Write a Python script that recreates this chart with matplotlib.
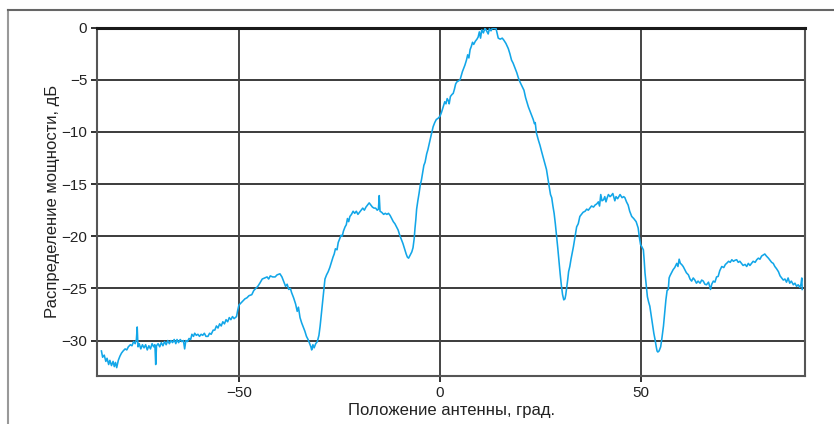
import matplotlib
matplotlib.use("Agg")
import matplotlib.pyplot as plt
from matplotlib.lines import Line2D

# Диаграмма направленности: (угол, град; мощность, дБ), по участкам
far_left = [
    (-84.2, -31.0), (-83.9, -31.6), (-83.5, -31.4), (-83.1, -32.0), (-82.8, -31.7),
    (-82.4, -32.3), (-82.1, -31.9), (-81.7, -32.4), (-81.3, -32.0), (-81.0, -32.5),
    (-80.7, -32.1), (-80.4, -32.6), (-80.0, -31.9), (-79.6, -31.5), (-79.2, -31.2),
    (-78.8, -31.0), (-78.3, -30.8), (-77.9, -30.9), (-77.5, -30.6), (-77.0, -30.4),
    (-76.6, -30.5), (-76.2, -30.1), (-75.8, -30.3), (-75.5, -29.9), (-75.3, -28.7),
    (-75.1, -30.6), (-74.8, -30.3), (-74.4, -30.8), (-74.0, -30.4), (-73.6, -30.7),
    (-73.2, -30.4), (-72.8, -30.9), (-72.4, -30.5), (-72.0, -30.8), (-71.6, -30.3),
    (-71.2, -30.6), (-70.9, -30.4), (-70.7, -32.3), (-70.5, -30.5), (-70.1, -30.3),
    (-69.7, -30.6), (-69.3, -30.2), (-68.9, -30.5), (-68.5, -30.1), (-68.1, -30.4),
    (-67.7, -30.0), (-67.3, -30.3), (-66.9, -30.0), (-66.5, -30.2), (-66.1, -29.9),
    (-65.7, -30.3), (-65.4, -29.9), (-65.0, -30.2), (-64.6, -29.9), (-64.2, -30.1),
    (-63.8, -30.0), (-63.5, -30.8), (-63.2, -30.0), (-62.8, -30.1), (-62.4, -29.8),
    (-62.0, -29.9), (-61.7, -29.4), (-61.3, -29.6), (-61.0, -29.3), (-60.6, -29.5),
    (-60.2, -29.4), (-59.8, -29.6), (-59.4, -29.4), (-59.0, -29.5), (-58.6, -29.3),
    (-58.2, -29.6), (-57.7, -29.6), (-57.3, -29.3), (-56.9, -29.4), (-56.4, -29.0),
    (-56.0, -29.0), (-55.6, -28.6), (-55.2, -28.8), (-54.8, -28.4), (-54.4, -28.6),
    (-54.0, -28.2), (-53.6, -28.4), (-53.2, -28.0), (-52.8, -28.2), (-52.4, -27.8),
    (-52.0, -28.0), (-51.6, -27.7), (-51.2, -27.9), (-50.6, -27.7), (-50.3, -27.1),
    (-50.0, -26.6),
]

left_lobes = [
    (-49.5, -26.4), (-49.0, -26.2), (-48.5, -26.0), (-48.0, -25.9), (-47.5, -25.7),
    (-46.8, -25.6), (-46.3, -25.2), (-45.8, -25.0), (-45.3, -24.8), (-44.8, -24.5),
    (-44.2, -24.1), (-43.6, -24.0), (-43.0, -23.9), (-42.6, -24.1), (-42.2, -23.8),
    (-41.6, -23.9), (-41.0, -23.9), (-40.5, -23.7), (-39.8, -23.6), (-39.3, -23.9),
    (-38.8, -24.4), (-38.4, -24.8), (-38.0, -24.6), (-37.6, -25.1), (-37.2, -25.0),
    (-36.9, -25.4), (-36.4, -25.9), (-35.9, -26.5), (-35.5, -27.2), (-35.2, -26.8),
    (-34.8, -27.8), (-34.4, -28.3), (-34.0, -28.7), (-33.6, -29.1), (-33.2, -29.6),
    (-32.8, -29.9), (-32.4, -30.3), (-32.1, -30.6), (-31.9, -30.9), (-31.6, -30.4),
    (-31.3, -30.7), (-30.9, -30.3), (-30.5, -30.1), (-30.1, -29.5), (-29.8, -28.6),
    (-29.5, -27.5), (-29.2, -26.4), (-28.9, -25.2), (-28.6, -24.1), (-28.2, -23.7),
    (-27.8, -23.4), (-27.4, -23.0), (-27.0, -22.5), (-26.6, -22.0), (-26.3, -21.7),
    (-26.0, -21.2), (-25.6, -21.3), (-25.3, -20.6), (-24.9, -20.2), (-24.6, -19.9),
    (-24.3, -20.0), (-24.0, -19.5), (-23.6, -19.1), (-23.3, -18.9), (-23.0, -18.3),
    (-22.7, -18.6), (-22.4, -18.1), (-22.0, -17.9), (-21.6, -17.6), (-21.2, -17.8),
    (-20.8, -17.6), (-20.4, -17.9), (-20.0, -17.7), (-19.6, -17.5), (-19.2, -17.3),
    (-18.8, -17.5), (-18.4, -17.2), (-18.0, -17.0), (-17.6, -16.8), (-17.2, -17.0),
    (-16.8, -17.2), (-16.4, -17.3), (-16.0, -17.3), (-15.6, -17.5), (-15.3, -17.4),
    (-15.1, -16.1), (-14.9, -17.6), (-14.5, -17.7), (-14.0, -17.9), (-13.6, -17.8),
    (-13.2, -17.9), (-12.8, -17.8), (-12.4, -18.0), (-12.0, -18.3), (-11.6, -18.6),
    (-11.2, -18.8), (-10.8, -19.1), (-10.4, -19.4), (-10.0, -19.9), (-9.6, -20.3),
    (-9.2, -20.7), (-8.8, -21.2), (-8.4, -21.7), (-8.1, -22.0), (-7.8, -22.1),
    (-7.4, -21.8), (-7.0, -21.5), (-6.7, -21.1), (-6.4, -20.2), (-6.2, -19.2),
]

main_lobe = [
    (-6.0, -18.4), (-5.8, -17.4), (-5.5, -16.6), (-5.2, -15.9), (-4.9, -15.1),
    (-4.6, -14.6), (-4.3, -13.9), (-4.0, -13.2), (-3.7, -12.9), (-3.3, -12.1),
    (-3.0, -11.7), (-2.6, -11.0), (-2.3, -10.5), (-2.0, -10.0), (-1.7, -9.5),
    (-1.3, -9.1), (-0.9, -8.8), (-0.5, -8.7), (0.0, -8.5), (0.4, -8.1),
    (0.8, -7.6), (1.2, -7.1), (1.5, -7.3), (1.8, -6.8), (2.1, -7.0),
    (2.3, -7.3), (2.6, -6.6), (3.0, -6.4), (3.3, -6.3), (3.6, -5.9),
    (3.9, -5.4), (4.2, -5.2), (4.6, -5.1), (5.0, -5.0), (5.3, -4.6),
    (5.6, -4.2), (5.9, -3.9), (6.2, -3.6), (6.6, -3.1), (6.9, -2.6),
    (7.2, -2.9), (7.5, -2.1), (7.8, -1.8), (8.1, -1.4), (8.4, -1.6),
    (8.8, -1.3), (9.2, -1.1), (9.5, -0.9), (9.8, -0.4), (10.1, -1.0),
    (10.4, -0.2), (10.8, -0.5), (11.2, -0.05), (11.6, -0.3), (12.0, -0.6),
    (12.3, -0.1), (12.7, -0.3), (13.1, 0.0), (13.5, -0.1), (13.9, 0.0),
    (14.2, -0.5), (14.5, -1.0), (15.0, -1.1), (15.5, -1.0), (15.9, -1.2),
    (16.4, -1.5), (17.0, -2.0), (17.4, -2.5), (17.8, -3.1), (18.2, -3.4),
    (18.7, -3.9), (19.1, -4.3), (19.5, -4.8), (19.9, -5.2), (20.4, -5.6),
    (20.9, -6.0), (21.3, -6.7), (21.7, -7.2), (22.0, -7.6), (22.5, -8.1),
    (22.9, -8.5), (23.2, -8.8), (23.5, -9.2), (23.7, -9.1), (24.0, -10.1),
    (24.5, -10.8), (24.9, -11.3), (25.3, -11.9), (25.8, -12.6), (26.2, -13.2),
    (26.5, -13.6), (26.9, -14.6), (27.2, -15.3), (27.5, -16.0), (27.8, -16.3),
    (28.1, -17.1), (28.4, -17.8), (28.7, -18.8), (29.0, -19.9), (29.3, -21.1),
    (29.6, -22.4), (29.9, -23.6), (30.2, -24.7), (30.5, -25.6), (30.8, -26.1),
]

right_lobes = [
    (31.1, -26.0), (31.3, -25.6), (31.5, -25.0), (31.8, -24.1), (32.0, -23.4),
    (32.3, -22.9), (32.6, -22.2), (32.9, -21.6), (33.2, -21.0), (33.5, -20.3),
    (33.8, -19.6), (34.0, -19.1), (34.4, -18.8), (34.8, -18.1), (35.2, -17.9),
    (35.6, -17.7), (36.1, -17.6), (36.5, -17.4), (36.9, -17.5), (37.3, -17.3),
    (37.7, -17.1), (38.2, -17.2), (38.6, -17.0), (39.0, -16.9), (39.4, -16.7),
    (39.7, -17.1), (40.0, -16.0), (40.3, -16.6), (40.7, -16.5), (41.0, -16.2),
    (41.3, -16.7), (41.6, -16.3), (41.9, -16.0), (42.3, -16.2), (42.6, -16.1),
    (43.0, -15.9), (43.3, -16.3), (43.5, -16.6), (43.8, -16.2), (44.2, -16.4),
    (44.8, -16.0), (45.3, -16.3), (45.7, -16.2), (46.0, -16.3), (46.4, -16.7),
    (46.8, -17.0), (47.2, -17.6), (47.7, -18.1), (48.2, -18.3), (48.8, -18.6),
    (49.3, -19.2), (49.6, -20.1), (49.9, -20.8), (50.2, -21.0), (50.6, -21.3),
    (50.8, -22.3), (51.0, -23.5), (51.3, -24.7), (51.6, -25.8), (51.9, -26.3),
    (52.2, -26.7), (52.5, -27.5), (52.9, -28.6), (53.2, -29.3), (53.5, -29.9),
    (53.8, -30.6), (54.0, -31.0), (54.2, -31.1), (54.5, -31.0), (54.9, -30.6),
    (55.2, -29.8), (55.6, -28.6), (55.9, -27.3), (56.2, -26.1), (56.5, -25.2),
    (56.8, -25.1), (57.0, -24.0),
]

far_right = [
    (57.2, -23.8), (57.6, -23.5), (58.0, -23.2), (58.4, -23.0), (58.9, -22.6),
    (59.2, -22.9), (59.5, -22.2), (59.8, -22.6), (60.1, -22.7), (60.5, -22.9),
    (60.9, -23.2), (61.3, -23.5), (61.8, -23.7), (62.2, -24.1), (62.6, -24.3),
    (63.0, -24.0), (63.4, -24.2), (63.8, -24.5), (64.2, -24.3), (64.7, -24.5),
    (65.1, -24.2), (65.5, -24.3), (65.9, -24.6), (66.3, -24.65), (66.8, -24.4),
    (67.3, -25.1), (67.6, -24.6), (68.0, -24.3), (68.4, -24.4), (68.8, -23.9),
    (69.2, -23.85), (69.6, -23.3), (70.1, -22.9), (70.6, -23.0), (71.0, -22.7),
    (71.3, -22.6), (71.8, -22.4), (72.2, -22.5), (72.6, -22.25), (73.0, -22.4),
    (73.4, -22.3), (73.8, -22.25), (74.2, -22.5), (74.6, -22.4), (75.0, -22.6),
    (75.4, -22.8), (75.9, -22.7), (76.3, -22.9), (76.7, -22.6), (77.1, -22.8),
    (77.5, -22.6), (77.9, -22.4), (78.4, -22.5), (78.8, -22.25), (79.2, -22.1),
    (79.6, -22.2), (80.0, -21.9), (80.4, -21.8), (80.8, -21.7), (81.2, -21.9),
    (81.7, -22.1), (82.1, -22.3), (82.5, -22.5), (82.9, -22.6), (83.3, -22.9),
    (83.7, -23.1), (84.2, -23.4), (84.6, -23.8), (85.0, -24.0), (85.4, -24.2),
    (85.8, -24.1), (86.2, -24.4), (86.6, -24.0), (87.0, -24.5), (87.4, -24.3),
    (87.9, -24.65), (88.3, -24.5), (88.7, -24.8), (89.1, -24.65), (89.5, -24.9),
    (89.8, -24.6), (90.0, -24.0), (90.1, -25.1),
]

x_ticks = [-50, 0, 50]
y_ticks = [0, -5, -10, -15, -20, -25, -30]

plt.rcParams['font.family'] = ['Liberation Sans', 'DejaVu Sans']

pontos = far_left + left_lobes + main_lobe + right_lobes + far_right
angulos = [p[0] for p in pontos]
potencia = [p[1] for p in pontos]

fig = plt.figure(figsize=(8.34, 4.24), dpi=100)
ax = fig.add_axes([97 / 834, 48 / 424, 708 / 834, 348.3 / 424])

# рамка вокруг рисунка (левая и верхняя линии)
fig.add_artist(Line2D([8 / 834, 8 / 834], [0, 1 - 10 / 424], transform=fig.transFigure,
                      color='#999999', lw=1.5))
fig.add_artist(Line2D([8 / 834, 1], [1 - 10 / 424, 1 - 10 / 424], transform=fig.transFigure,
                      color='#666666', lw=1.5))

for yv in y_ticks:
    ax.axhline(yv, color='#1a1a1a', lw=1.2, zorder=1)
for xv in x_ticks:
    ax.axvline(xv, color='#444444', lw=1.4, zorder=1)

ax.plot(angulos, potencia, color='#12a6e8', lw=1.15, zorder=3)

ax.set_xlim(-85.3, 90.8)
ax.set_ylim(-33.4, 0)
ax.set_xticks(x_ticks)
ax.set_yticks(y_ticks)
ax.set_xticklabels(['\u221250', '0', '50'])
ax.set_yticklabels(['0'] + ['\u2212%d' % abs(v) for v in y_ticks[1:]])
ax.tick_params(axis='both', direction='out', length=4, width=1.3, colors='#222222',
               labelsize=11, labelcolor='#222222', pad=3)

for lado in ['left', 'right', 'bottom']:
    ax.spines[lado].set_color('#555555')
    ax.spines[lado].set_linewidth(1.5)
ax.spines['top'].set_color('#1a1a1a')
ax.spines['top'].set_linewidth(2.2)

ax.set_xlabel('Положение антенны, град.', fontsize=12, color='#222222', labelpad=2)
ax.set_ylabel('Распределение мощности, дБ', fontsize=12, color='#222222', labelpad=1)

fig.savefig('out.png', dpi=100)
